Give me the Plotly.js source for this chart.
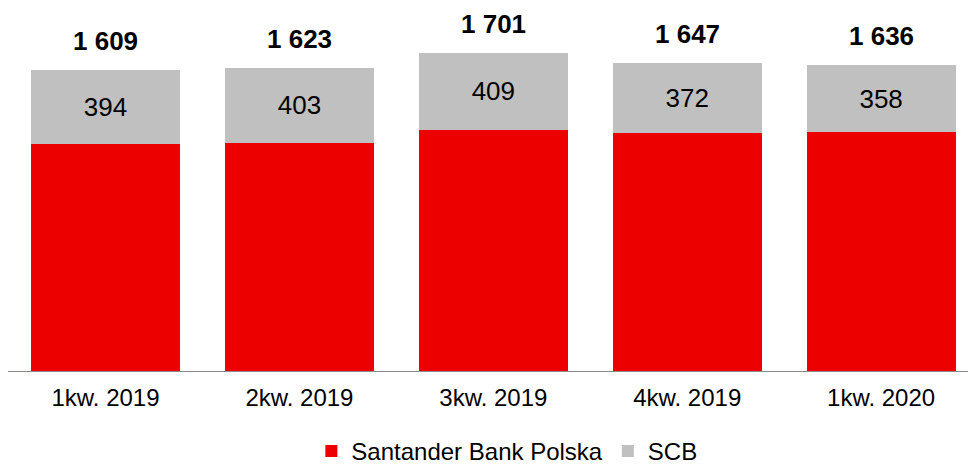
<!DOCTYPE html>
<html>
<head>
<meta charset="utf-8">
<script src="https://cdn.plot.ly/plotly-3.0.1.min.js"></script>
<style>
  html, body { margin: 0; padding: 0; background: #fff; }
  #chart { width: 968px; height: 466px; }
</style>
</head>
<body>
<div id="chart"></div>
<script>
const quarters = ['1kw. 2019', '2kw. 2019', '3kw. 2019', '4kw. 2019', '1kw. 2020'];
const santander = [1215, 1220, 1292, 1275, 1278];
const scb = [394, 403, 409, 372, 358];

const totals = santander.map((v, i) => v + scb[i]);
const fmt = v => String(v).replace(/\B(?=(\d{3})+(?!\d))/g, ' ');

const font = '"Liberation Sans", Arial, sans-serif';

const traceSantander = {
  x: quarters,
  y: santander,
  type: 'bar',
  name: 'Santander Bank Polska',
  marker: {color: '#EC0000', line: {width: 0}},
  hoverinfo: 'x+y+name'
};

const traceScb = {
  x: quarters,
  y: scb,
  type: 'bar',
  name: 'SCB',
  marker: {color: '#C0C0C0', line: {width: 0}},
  text: scb.map(String),
  textposition: 'inside',
  insidetextanchor: 'middle',
  textangle: 0,
  textfont: {family: font, size: 26, color: '#000'},
  hoverinfo: 'x+y+name'
};

// totals above each stack
const totalLabels = quarters.map((q, i) => ({
  x: q,
  y: totals[i],
  text: '<b>' + fmt(totals[i]) + '</b>',
  showarrow: false,
  yanchor: 'middle',
  yshift: 29,
  font: {family: font, size: 26, color: '#000'}
}));

Plotly.newPlot('chart', [traceSantander, traceScb], {
  width: 968,
  height: 466,
  margin: {l: 8, r: 0, t: 0, b: 95, autoexpand: false},
  barmode: 'stack',
  bargap: 0.232,
  paper_bgcolor: '#fff',
  plot_bgcolor: '#fff',
  font: {family: font, size: 24, color: '#000'},
  xaxis: {
    range: [-0.503, 4.448],
    showline: true,
    linecolor: '#8c8c8c',
    linewidth: 1,
    ticks: '',
    ticklabelstandoff: 5,
    showgrid: false,
    zeroline: false,
    tickfont: {family: font, size: 24, color: '#000'}
  },
  yaxis: {
    range: [0, 1986],
    visible: false,
    showgrid: false,
    zeroline: false
  },
  legend: {
    orientation: 'h',
    x: 0.316,
    xanchor: 'left',
    y: -0.217,
    yanchor: 'middle',
    font: {family: font, size: 24, color: '#000'},
    traceorder: 'normal'
  },
  annotations: totalLabels
}, {displayModeBar: false});
</script>
</body>
</html>
